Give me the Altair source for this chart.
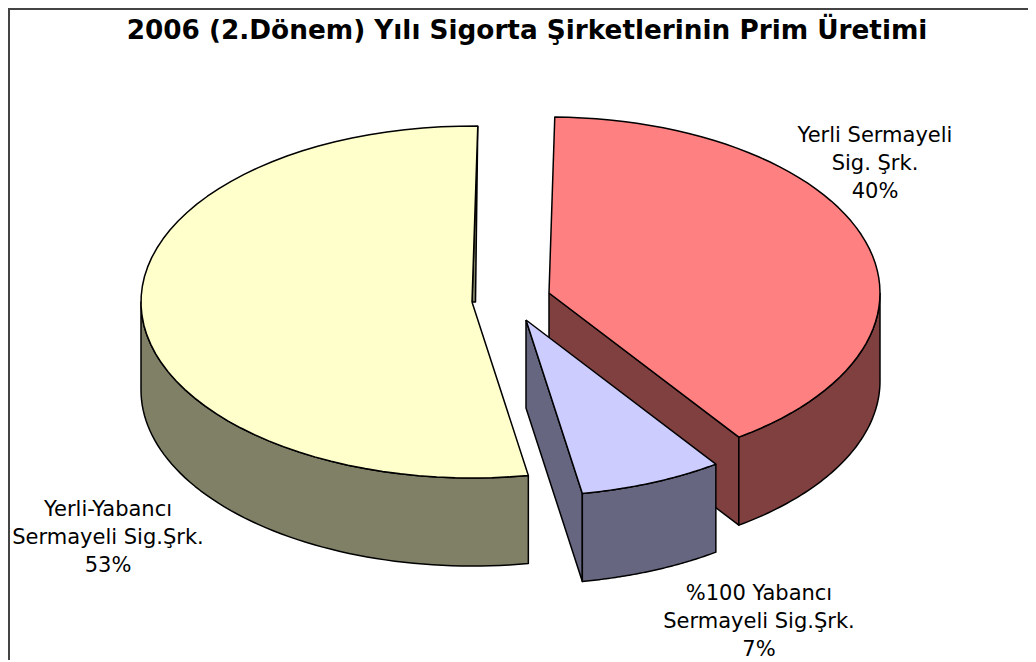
import math
import altair as alt
import pandas as pd

# --- values ---
names = ["Yerli Sermayeli\nSig. Şrk.", "%100 Yabancı\nSermayeli Sig.Şrk.", "Yerli-Yabancı\nSermayeli Sig.Şrk."]
shares = [40, 7, 53]
title = "2006 (2.Dönem) Yılı Sigorta Şirketlerinin Prim Üretimi"
top_colors = ["#FF8080", "#CCCCFF", "#FFFFCC"]
side_colors = ["#804040", "#666680", "#808066"]

# --- layout of the 3-D pie (page pixels) ---
W, H = 1020, 652
START = -89.0
RX, RY, DEPTH = 331, 176, 88
apexes = [(549, 293), (526, 320), (472, 302)]
label_pos = [(875, 142), (759, 600), (108, 516)]
STROKE = 1.5


def rim(apex, t0, t1, dy=0, n=60):
    out = []
    for i in range(n + 1):
        t = math.radians(t0 + (t1 - t0) * i / n)
        out.append((apex[0] + RX * math.cos(t), apex[1] + RY * math.sin(t) + dy))
    return out


x_scale = alt.Scale(domain=[8, 8 + W], range=[0, W], nice=False, zero=False)
y_scale = alt.Scale(domain=[8 + H, 8], range=[H, 0], nice=False, zero=False)


def poly(points, fill):
    pts = list(points) + [points[0]]
    df = pd.DataFrame({"x": [p[0] for p in pts], "y": [p[1] for p in pts], "i": range(len(pts))})
    return alt.Chart(df).mark_line(fill=fill, stroke="black", strokeWidth=STROKE, strokeJoin="round", clip=False).encode(
        x=alt.X("x:Q", scale=x_scale, axis=None),
        y=alt.Y("y:Q", scale=y_scale, axis=None),
        order=alt.Order("i:Q"),
    )


# slice angles from the shares
angles = []
a = START
for s in shares:
    angles.append((a, a + s * 3.6))
    a += s * 3.6

layers = []
draw_order = [2, 0, 1]  # yellow at the back, then red, then the exploded blue slice
for k in draw_order:
    ap = apexes[k]
    t0, t1 = angles[k]
    top = [ap] + rim(ap, t0, t1)
    if k == 2:
        # thin side face beside the far edge, then the front wall
        far = rim(ap, t1, t1, n=1)[0]
        layers.append(poly([far, ap, (ap[0] + 3.5, ap[1])], side_colors[k]))
        front = rim(ap, t0, 180)
        front_low = rim(ap, 180, t0, dy=DEPTH)
        layers.append(poly(front + front_low, side_colors[k]))
    if k == 0:
        # cut face towards the viewer, then the front wall
        end = rim(ap, t1, t1, n=1)[0]
        layers.append(poly([ap, end, (end[0], end[1] + DEPTH), (ap[0], ap[1] + DEPTH)], side_colors[k]))
        layers.append(poly(rim(ap, 0, t1) + rim(ap, t1, 0, dy=DEPTH), side_colors[k]))
    if k == 1:
        end = rim(ap, t1, t1, n=1)[0]
        layers.append(poly([ap, end, (end[0], end[1] + DEPTH), (ap[0], ap[1] + DEPTH)], side_colors[k]))
        layers.append(poly(rim(ap, t0, t1) + rim(ap, t1, t0, dy=DEPTH), side_colors[k]))
    layers.append(poly(top, top_colors[k]))

labels = pd.DataFrame({
    "label": [f"{n}\n{s}%" for n, s in zip(names, shares)],
    "x": [p[0] for p in label_pos],
    "y": [p[1] for p in label_pos],
})
text = alt.Chart(labels).mark_text(
    font="DejaVu Sans", fontSize=21, lineBreak="\n", lineHeight=28, align="center", baseline="alphabetic", color="black"
).encode(
    x=alt.X("x:Q", scale=x_scale, axis=None),
    y=alt.Y("y:Q", scale=y_scale, axis=None),
    text="label:N",
)

frame_top = alt.Chart(pd.DataFrame({"a": [0]})).mark_rule(color="#444444", strokeWidth=2).encode(
    x=alt.value(0), x2=alt.value(W), y=alt.value(1))
frame_left = alt.Chart(pd.DataFrame({"a": [0]})).mark_rule(color="#444444", strokeWidth=2).encode(
    x=alt.value(1), y=alt.value(0), y2=alt.value(H))

chart = alt.layer(frame_top, frame_left, *layers, text).properties(
    width=W,
    height=H,
    padding=0,
    autosize=alt.AutoSizeParams(type="none"),
    title=alt.TitleParams(title, font="DejaVu Sans", fontWeight="bold", fontSize=26.3, color="black",
                          anchor="middle", orient="top", offset=-37, dx=9),
    background="white",
).configure_view(stroke=None)

chart.save("out.html", embed_options={"renderer": "svg", "actions": False})
